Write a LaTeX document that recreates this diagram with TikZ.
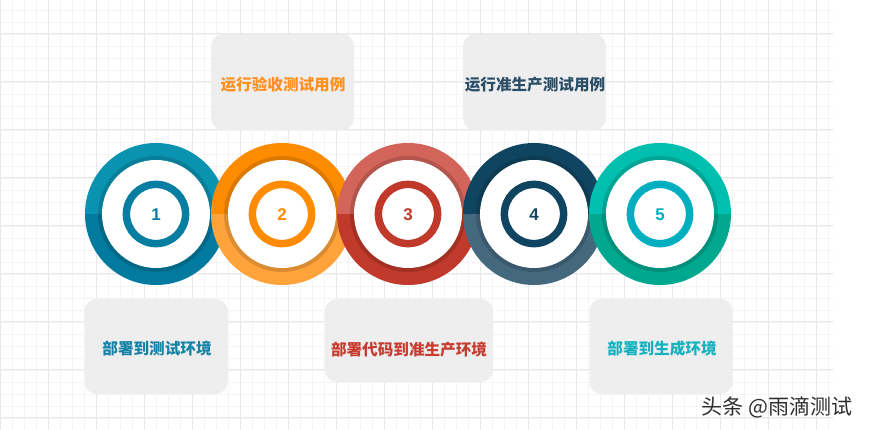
\documentclass[tikz,border=0pt]{standalone}
\usepackage{fontspec}
\newfontfamily\cjk{Noto Sans CJK SC}
\newfontfamily\numfont{Liberation Sans}
\usetikzlibrary{calc}
\definecolor{gridminor}{HTML}{F4F4F4}
\definecolor{gridmajor}{HTML}{E8E8E8}
\definecolor{boxfill}{HTML}{EEEEEE}
\definecolor{aTop}{HTML}{0A93B1}
\definecolor{aBot}{HTML}{007A9E}
\definecolor{aIn}{HTML}{067EA2}
\definecolor{bTop}{HTML}{FF8C00}
\definecolor{bBot}{HTML}{FFA33A}
\definecolor{bIn}{HTML}{FF8C00}
\definecolor{cTop}{HTML}{D2645A}
\definecolor{cBot}{HTML}{C0392B}
\definecolor{cIn}{HTML}{C0392B}
\definecolor{dTop}{HTML}{0F4560}
\definecolor{dBot}{HTML}{44687E}
\definecolor{dIn}{HTML}{0F4560}
\definecolor{eTop}{HTML}{00BFAE}
\definecolor{eBot}{HTML}{00A890}
\definecolor{eIn}{HTML}{00AFBF}
\definecolor{txtA}{HTML}{1583A6}
\definecolor{txtB}{HTML}{FF901E}
\definecolor{txtC}{HTML}{C83C30}
\definecolor{txtD}{HTML}{2A4E66}
\definecolor{txtE}{HTML}{14B2BF}
\tikzset{
  minorline/.style={draw=gridminor, line width=0.8pt},
  majorline/.style={draw=gridmajor, line width=1pt},
  infobox/.style={fill=boxfill, rounded corners=12pt, inner sep=0pt},
  boxtext/.style={font=\cjk\bfseries\fontsize{15.6}{15.6}\selectfont, inner sep=0pt},
  numtext/.style={font=\numfont\bfseries\fontsize{17}{17}\selectfont, inner sep=0pt},
}
\newcommand{\ringdisc}[5]{% name, x, top, bottom, inner
  \coordinate (#1) at (#2,214);
  \begin{scope}
    \clip (#1) circle[radius=71pt];
    \fill[#3] ($(#1)+(-80,-80)$) rectangle ($(#1)+(80,0)$);
    \fill[#4] ($(#1)+(-80,0)$) rectangle ($(#1)+(80,80)$);
  \end{scope}
  \fill[black, opacity=0.14] (#1) circle[radius=58pt];
  \fill[white] (#1) circle[radius=54pt];
  \draw[#5, line width=7.5pt] (#1) circle[radius=29.6pt];
}
\begin{document}
\begin{tikzpicture}[x=1pt,y=-1pt]
\useasboundingbox (0,0) rectangle (871,430);
\fill[white] (0,0) rectangle (871,430);
% grid
\foreach \x in {0,12,...,828} \draw[minorline] (\x,0) -- (\x,430);
\foreach \y in {10,22,...,430} \draw[minorline] (0,\y) -- (833,\y);
\foreach \x in {0,48,...,816} \draw[majorline] (\x,0) -- (\x,430);
\foreach \y in {34,82,...,418} \draw[majorline] (0,\y) -- (833,\y);
% boxes
\node[infobox, minimum width=143pt, minimum height=96pt] (top1) at (282.5,82) {};
\node[infobox, minimum width=143pt, minimum height=96pt] (top2) at (534.5,82) {};
\node[infobox, minimum width=143pt, minimum height=95pt] (bot1) at (156,346.5) {};
\node[infobox, minimum width=168pt, minimum height=83pt] (bot2) at (409,340.5) {};
\node[infobox, minimum width=143pt, minimum height=95pt] (bot3) at (661,346.5) {};
\node[boxtext, text=txtB] (tt1) at (283,85) {运行验收测试用例};
\node[boxtext, text=txtD] (tt2) at (535,85) {运行准生产测试用例};
\node[boxtext, text=txtA] (bt1) at (157,349) {部署到测试环境};
\node[boxtext, text=txtC] (bt2) at (409,350) {部署代码到准生产环境};
\node[boxtext, text=txtE] (bt3) at (662,349) {部署到生成环境};
% rings
\ringdisc{c1}{156}{aTop}{aBot}{aIn}
\ringdisc{c2}{282}{bTop}{bBot}{bIn}
\ringdisc{c3}{408}{cTop}{cBot}{cIn}
\ringdisc{c4}{534}{dTop}{dBot}{dIn}
\ringdisc{c5}{660}{eTop}{eBot}{eIn}
\node[numtext, text=aIn] (n1) at ($(c1)+(0,1)$) {1};
\node[numtext, text=bIn] (n2) at ($(c2)+(0,1)$) {2};
\node[numtext, text=cIn] (n3) at ($(c3)+(0,1)$) {3};
\node[numtext, text=dIn] (n4) at ($(c4)+(0,1)$) {4};
\node[numtext, text=eIn] (n5) at ($(c5)+(0,1)$) {5};
% watermark
\node[font=\cjk\fontsize{21}{21}\selectfont, text=black!82, inner sep=0pt] (wm) at (777,407) {头条 @雨滴测试};
\end{tikzpicture}
\end{document}
